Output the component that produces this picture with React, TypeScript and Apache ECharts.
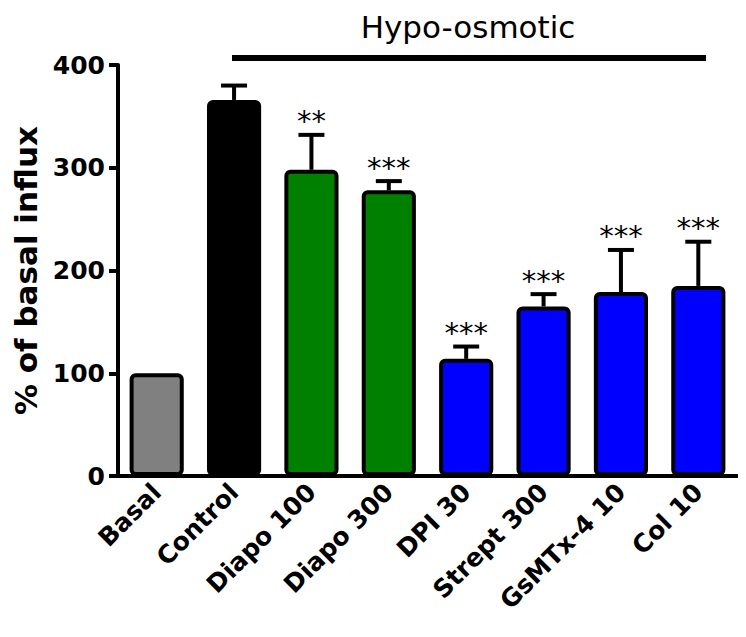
import React, { useEffect, useRef } from "react";
import * as echarts from "echarts";

const categories = ["Basal", "Control", "Diapo 100", "Diapo 300", "DPI 30", "Strept 300", "GsMTx-4 10", "Col 10"];
const means = [100, 366, 298, 278, 114, 165, 179, 185];
const errTops = [100, 380, 332, 287, 126, 177, 220, 228];
const stars = ["", "", "**", "***", "***", "***", "***", "***"];
const barColors = ["#808080", "#000000", "#008000", "#008000", "#0000ff", "#0000ff", "#0000ff", "#0000ff"];
const yTicks = [0, 100, 200, 300, 400];

export default function App() {
  const ref = useRef<HTMLDivElement>(null);
  useEffect(() => {
    const chart = echarts.init(ref.current!, undefined, { renderer: "svg" });
    const font = "'DejaVu Sans', sans-serif";
    chart.setOption({
      animation: false,
      grid: { left: 110, right: 1, top: 57, bottom: 153, outerBoundsMode: "none", containLabel: false },
      xAxis: {
        type: "category",
        data: categories,
        axisLine: { lineStyle: { color: "#000", width: 4 } },
        axisTick: { alignWithLabel: true, length: 9, lineStyle: { color: "#000", width: 4 } },
        axisLabel: { rotate: 45, fontSize: 25, fontWeight: "bold", color: "#000", fontFamily: font, margin: 12, interval: 0 },
      },
      yAxis: {
        type: "value",
        min: yTicks[0],
        max: yTicks[yTicks.length - 1],
        interval: 100,
        name: "% of basal influx",
        nameLocation: "middle",
        nameGap: 76,
        nameTextStyle: { fontSize: 31, fontWeight: "bold", color: "#000", fontFamily: font },
        axisLine: { show: true, lineStyle: { color: "#000", width: 4 } },
        axisTick: { show: true, length: 9, lineStyle: { color: "#000", width: 4 } },
        splitLine: { show: false },
        axisLabel: { fontSize: 25, fontWeight: "bold", color: "#000", fontFamily: font, margin: 13 },
      },
      series: [
        {
          type: "custom",
          z: 1,
          data: categories.map((c, i) => [i, means[i], errTops[i]]),
          renderItem: (params: any, api: any) => {
            const i = api.value(0);
            const base = api.coord([i, api.value(1)]);
            const top = api.coord([i, api.value(2)]);
            if (api.value(2) <= api.value(1)) return { type: "group", children: [] };
            const style = { stroke: "#000", lineWidth: 4 };
            return {
              type: "group",
              children: [
                { type: "line", shape: { x1: base[0], y1: base[1], x2: top[0], y2: top[1] }, style },
                { type: "line", shape: { x1: top[0] - 13, y1: top[1], x2: top[0] + 13, y2: top[1] }, style },
              ],
            };
          },
        },
        {
          type: "bar",
          z: 2,
          barWidth: "70%",
          data: means.map((v, i) => ({
            value: v,
            itemStyle: { color: barColors[i], borderColor: "#000", borderWidth: 4, borderRadius: 4 },
          })),
        },
        {
          type: "custom",
          z: 3,
          data: categories.map((c, i) => [i, errTops[i]]),
          renderItem: (params: any, api: any) => {
            const i = api.value(0);
            const p = api.coord([i, api.value(1)]);
            return {
              type: "text",
              style: {
                text: stars[i],
                x: p[0],
                y: p[1] + 1,
                align: "center",
                verticalAlign: "bottom",
                fontSize: 29,
                fill: "#000",
                fontFamily: font,
              },
            };
          },
        },
      ],
      graphic: [
        { type: "line", shape: { x1: 224, y1: 50, x2: 698, y2: 50 }, style: { stroke: "#000", lineWidth: 6 } },
        {
          type: "text",
          style: { text: "Hypo-osmotic", x: 460, y: 19, align: "center", verticalAlign: "middle", fontSize: 31, fill: "#000", fontFamily: font },
        },
      ],
    });
    return () => chart.dispose();
  }, []);
  return <div ref={ref} style={{ width: 730, height: 621 }} />;
}
